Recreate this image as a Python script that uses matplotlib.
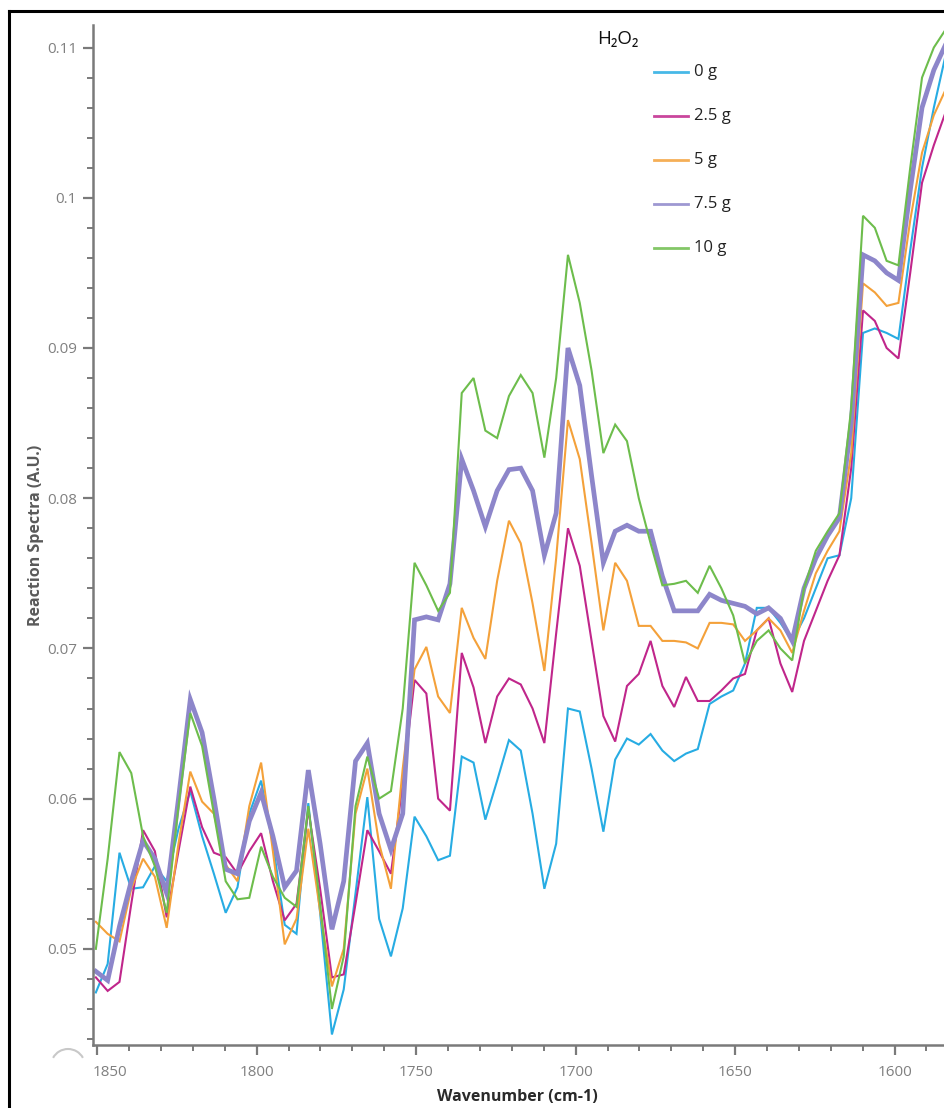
import matplotlib
matplotlib.use("Agg")
import matplotlib.pyplot as plt
from matplotlib.lines import Line2D
from matplotlib.patches import Arc
from matplotlib.ticker import MultipleLocator, FuncFormatter
import matplotlib.transforms as mtransforms

# ---------------- data ----------------
wavenumber = [1850.4, 1846.7, 1843.0, 1839.3, 1835.6, 1831.9, 1828.2, 1824.5, 1820.8, 1817.1,
              1813.4, 1809.7, 1806.0, 1802.3, 1798.6, 1794.9, 1791.2, 1787.5, 1783.8, 1780.1,
              1776.4, 1772.7, 1769.0, 1765.3, 1761.6, 1757.9, 1754.2, 1750.5, 1746.8, 1743.1,
              1739.4, 1735.7, 1732.0, 1728.3, 1724.6, 1720.9, 1717.2, 1713.5, 1709.8, 1706.1,
              1702.4, 1698.7, 1695.0, 1691.3, 1687.6, 1683.9, 1680.2, 1676.5, 1672.8, 1669.1,
              1665.4, 1661.7, 1658.0, 1654.3, 1650.6, 1646.9, 1643.2, 1639.5, 1635.8, 1632.1,
              1628.4, 1624.7, 1621.0, 1617.3, 1613.6, 1609.9, 1606.2, 1602.5, 1598.8, 1595.1,
              1591.4, 1587.7, 1584.0]

h2o2_0g = [0.0471, 0.0490, 0.0564, 0.0540, 0.0541, 0.0555, 0.0545, 0.0580, 0.0605, 0.0575,
           0.0550, 0.0524, 0.0541, 0.0590, 0.0612, 0.0570, 0.0516, 0.0510, 0.0597, 0.0524,
           0.0443, 0.0473, 0.0537, 0.0601, 0.0520, 0.0495, 0.0527, 0.0588, 0.0575, 0.0559,
           0.0562, 0.0628, 0.0624, 0.0586, 0.0612, 0.0639, 0.0632, 0.0590, 0.0540, 0.0570,
           0.0660, 0.0658, 0.0620, 0.0578, 0.0626, 0.0640, 0.0636, 0.0643, 0.0632, 0.0625,
           0.0630, 0.0633, 0.0663, 0.0668, 0.0672, 0.0690, 0.0727, 0.0727, 0.0717, 0.0705,
           0.0720, 0.0740, 0.0760, 0.0762, 0.0800, 0.0910, 0.0913, 0.0910, 0.0906, 0.0965,
           0.1020, 0.1060, 0.1095]

h2o2_2_5g = [0.0481, 0.0472, 0.0478, 0.0530, 0.0579, 0.0565, 0.0521, 0.0565, 0.0608, 0.0581,
             0.0564, 0.0561, 0.0550, 0.0565, 0.0577, 0.0545, 0.0519, 0.0530, 0.0593, 0.0540,
             0.0481, 0.0483, 0.0530, 0.0579, 0.0565, 0.0550, 0.0610, 0.0679, 0.0670, 0.0600,
             0.0592, 0.0697, 0.0674, 0.0637, 0.0668, 0.0680, 0.0676, 0.0660, 0.0637, 0.0710,
             0.0780, 0.0755, 0.0705, 0.0655, 0.0638, 0.0675, 0.0683, 0.0705, 0.0675, 0.0661,
             0.0681, 0.0665, 0.0665, 0.0672, 0.0680, 0.0683, 0.0712, 0.0720, 0.0690, 0.0671,
             0.0705, 0.0725, 0.0745, 0.0762, 0.0820, 0.0925, 0.0918, 0.0900, 0.0893, 0.0950,
             0.1010, 0.1035, 0.1057]

h2o2_5g = [0.0518, 0.0510, 0.0505, 0.0540, 0.0560, 0.0548, 0.0514, 0.0570, 0.0618, 0.0598,
           0.0590, 0.0556, 0.0545, 0.0595, 0.0624, 0.0565, 0.0503, 0.0520, 0.0580, 0.0525,
           0.0475, 0.0500, 0.0590, 0.0620, 0.0570, 0.0540, 0.0620, 0.0686, 0.0701, 0.0668,
           0.0657, 0.0727, 0.0707, 0.0693, 0.0745, 0.0785, 0.0770, 0.0730, 0.0685, 0.0760,
           0.0852, 0.0826, 0.0770, 0.0712, 0.0757, 0.0745, 0.0715, 0.0715, 0.0705, 0.0705,
           0.0704, 0.0700, 0.0717, 0.0717, 0.0716, 0.0705, 0.0712, 0.0720, 0.0712, 0.0697,
           0.0725, 0.0750, 0.0765, 0.0778, 0.0830, 0.0943, 0.0937, 0.0928, 0.0930, 0.0985,
           0.1030, 0.1055, 0.1072]

h2o2_7_5g = [0.0485, 0.0479, 0.0515, 0.0545, 0.0572, 0.0560, 0.0537, 0.0600, 0.0666, 0.0644,
             0.0600, 0.0553, 0.0550, 0.0585, 0.0604, 0.0575, 0.0541, 0.0552, 0.0619, 0.0570,
             0.0513, 0.0545, 0.0625, 0.0637, 0.0590, 0.0566, 0.0590, 0.0719, 0.0721, 0.0719,
             0.0743, 0.0826, 0.0805, 0.0781, 0.0805, 0.0819, 0.0820, 0.0805, 0.0762, 0.0790,
             0.0900, 0.0875, 0.0815, 0.0757, 0.0778, 0.0782, 0.0778, 0.0778, 0.0748, 0.0725,
             0.0725, 0.0725, 0.0736, 0.0732, 0.0730, 0.0728, 0.0723, 0.0727, 0.0720, 0.0705,
             0.0740, 0.0760, 0.0775, 0.0787, 0.0850, 0.0962, 0.0958, 0.0950, 0.0945, 0.1005,
             0.1060, 0.1085, 0.1102]

h2o2_10g = [0.0500, 0.0560, 0.0631, 0.0617, 0.0575, 0.0555, 0.0524, 0.0595, 0.0657, 0.0635,
            0.0590, 0.0545, 0.0533, 0.0534, 0.0568, 0.0548, 0.0534, 0.0528, 0.0595, 0.0530,
            0.0460, 0.0495, 0.0595, 0.0628, 0.0600, 0.0605, 0.0660, 0.0757, 0.0742, 0.0725,
            0.0737, 0.0870, 0.0880, 0.0845, 0.0840, 0.0868, 0.0882, 0.0870, 0.0827, 0.0880,
            0.0962, 0.0930, 0.0885, 0.0830, 0.0849, 0.0838, 0.0800, 0.0770, 0.0742, 0.0743,
            0.0745, 0.0737, 0.0755, 0.0740, 0.0722, 0.0690, 0.0705, 0.0712, 0.0700, 0.0692,
            0.0740, 0.0765, 0.0778, 0.0790, 0.0860, 0.0988, 0.0980, 0.0958, 0.0955, 0.1020,
            0.1080, 0.1100, 0.1112]

series_labels = ["0 g", "2.5 g", "5 g", "7.5 g", "10 g"]
series_values = [h2o2_0g, h2o2_2_5g, h2o2_5g, h2o2_7_5g, h2o2_10g]
legend_title = "H\u2082O\u2082"
x_ticks = [1850, 1800, 1750, 1700, 1650, 1600]

# ---------------- styling ----------------
colors = ["#27ace3", "#c0268b", "#f4a13a", "#8d86ca", "#6dbd4c"]
widths = [1.5, 1.5, 1.5, 3.4, 1.5]
axis_grey = "#7a7a7a"

W, H = 945, 1108
fig = plt.figure(figsize=(W / 100, H / 100), dpi=100)
fig.patch.set_facecolor("white")

def fx(x):
    return x / W

def fy(y):
    return 1 - y / H

ax = fig.add_axes([fx(93), fy(1045), fx(945) - fx(93), fy(25) - fy(1045)])
for vals, c, lw in zip(series_values, colors, widths):
    ax.plot(wavenumber, vals, color=c, lw=lw, solid_joinstyle="miter")

ax.set_xlim(1851.3, 1584.2)
ax.set_ylim(0.0436, 0.1115)

for s in ["top", "right"]:
    ax.spines[s].set_visible(False)
for s in ["left", "bottom"]:
    ax.spines[s].set_color(axis_grey)
    ax.spines[s].set_linewidth(1.8)

ax.set_xticks(x_ticks)
ax.xaxis.set_minor_locator(MultipleLocator(10))
ax.yaxis.set_major_locator(MultipleLocator(0.01))
ax.yaxis.set_minor_locator(MultipleLocator(0.002))
ax.yaxis.set_major_formatter(FuncFormatter(lambda v, p: f"{v:g}"))
ax.xaxis.set_major_formatter(FuncFormatter(lambda v, p: f"{v:g}"))

ax.tick_params(axis="both", which="major", direction="out", length=7.5, width=1.6,
               color=axis_grey, labelcolor="#808080", labelsize=11)
ax.tick_params(axis="both", which="minor", direction="out", length=4, width=1.4,
               color=axis_grey)
ax.tick_params(axis="x", which="major", pad=7)
ax.tick_params(axis="y", which="major", pad=4)
for lab in ax.get_xticklabels() + ax.get_yticklabels():
    lab.set_family("Open Sans")
# first x label sits just right of the y axis in the reference
first = ax.get_xticklabels()[0]
first.set_horizontalalignment("left")
first.set_transform(first.get_transform() + mtransforms.ScaledTranslation(-4 / 100, 0, fig.dpi_scale_trans))

fig.text(fx(36), fy(535), "Reaction Spectra (A.U.)", rotation=90, ha="center", va="center",
         fontsize=11.5, fontweight="bold", color="#5a5a5a", family="Open Sans")
fig.text(fx(517), fy(1097), "Wavenumber (cm-1)", ha="center", va="center",
         fontsize=11.5, fontweight="bold", color="#2a2a2a", family="Open Sans")

# legend (drawn manually to match placement)
fig.text(fx(597), fy(39), legend_title, ha="left", va="center", fontsize=13.5,
         color="#111111", family=["Open Sans", "DejaVu Sans"])
for k, (lab, c) in enumerate(zip(series_labels, colors)):
    yy = 72 + 44 * k
    fig.add_artist(Line2D([fx(654), fx(688)], [fy(yy), fy(yy)], color=c, lw=2.0, alpha=0.85))
    fig.text(fx(694), fy(yy), lab, ha="left", va="center", fontsize=12,
             color="#222222", family="Open Sans")

# outer frame (left and top edges visible in the reference)
fig.add_artist(Line2D([fx(9), fx(9)], [fy(11), 0], color="black", lw=2.2))
fig.add_artist(Line2D([fx(9), 1], [fy(11), fy(11)], color="black", lw=2.2))

# faint arc artifact at the lower left
arc = Arc((fx(68), fy(1066)), width=fx(34), height=34 / H, theta1=25, theta2=155,
          transform=fig.transFigure, color="#c8c8c8", lw=1.5)
fig.add_artist(arc)

fig.savefig("out.png", dpi=100, facecolor="white")
